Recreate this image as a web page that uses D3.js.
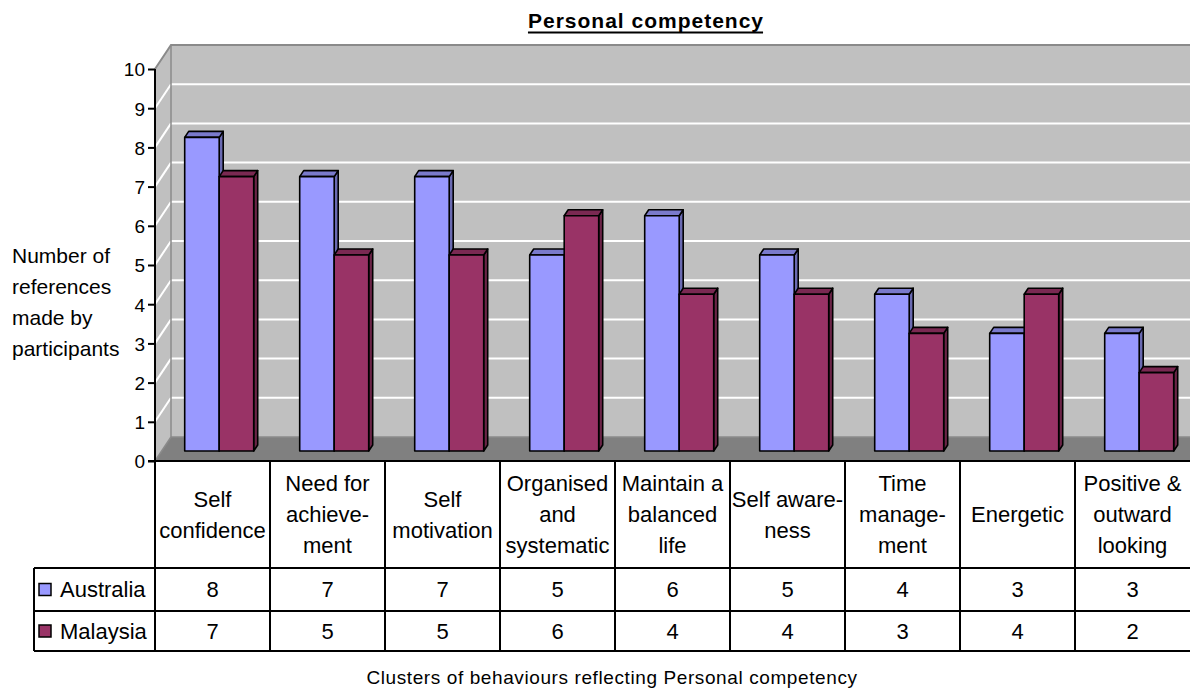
<!DOCTYPE html>
<html>
<head>
<meta charset="utf-8">
<script src="https://cdn.jsdelivr.net/npm/d3@7"></script>
<style>
  html, body { margin: 0; padding: 0; background: #fff; }
  svg text { font-family: "Liberation Sans", Arial, sans-serif; fill: #000; }
</style>
</head>
<body>
<svg id="chart" width="1190" height="691"></svg>
<script>
// ---- data ----
const categories = [
  "Self confidence", "Need for achievement", "Self motivation",
  "Organised and systematic", "Maintain a balanced life", "Self awareness",
  "Time management", "Energetic", "Positive & outward looking"
];
const categoryLines = [
  ["Self", "confidence"],
  ["Need for", "achieve-", "ment"],
  ["Self", "motivation"],
  ["Organised", "and", "systematic"],
  ["Maintain a", "balanced", "life"],
  ["Self aware-", "ness"],
  ["Time", "manage-", "ment"],
  ["Energetic"],
  ["Positive &", "outward", "looking"]
];
const seriesNames = ["Australia", "Malaysia"];
const australia = [8, 7, 7, 5, 6, 5, 4, 3, 3];
const malaysia  = [7, 5, 5, 6, 4, 4, 3, 4, 2];
const yTicks = [0, 1, 2, 3, 4, 5, 6, 7, 8, 9, 10];
const yTitleLines = ["Number of", "references", "made by", "participants"];
const chartTitle = "Personal competency";
const xTitle = "Clusters of behaviours reflecting Personal competency";

const seriesValues = [australia, malaysia];
const faceColors = [
  { front: "#9999ff", top: "#7a7acc", side: "#6a6ab2" },
  { front: "#993366", top: "#7a2952", side: "#6b2447" }
];

// ---- layout ----
const svg = d3.select("#chart");
const plotL = 155, plotR = 1190, plotT = 69, plotB = 461;
const DX = 16, DY = -24;             // depth of the 3D floor / walls
const FX = 6.7, FY = -10;            // front face of bars inside the depth
const BX = 4, BY = -6;               // bar thickness in depth
const tableLeft = 34;
const rowCat = [461, 568], rowAu = [568, 611], rowMy = [611, 651];
const labelSize = "22px";

const y = d3.scaleLinear().domain([0, 10]).range([plotB, plotT]);
const xCat = d3.scaleBand().domain(categories).range([plotL, plotR]);
const bw = xCat.bandwidth();
const xSub = d3.scaleBand().domain(seriesNames).range([bw * 0.2, bw * 0.8]);

// ---- walls and floor ----
const g = svg.append("g");
// left side wall
g.append("path")
  .attr("d", `M${plotL},${y(10)} L${plotL + DX},${y(10) + DY} L${plotL + DX},${y(0) + DY} L${plotL},${y(0)} Z`)
  .attr("fill", "#c0c0c0");
// back wall
g.append("rect")
  .attr("x", plotL + DX).attr("y", y(10) + DY)
  .attr("width", plotR - plotL - DX).attr("height", y(0) - y(10))
  .attr("fill", "#c0c0c0");
// floor
g.append("path")
  .attr("d", `M${plotL},${y(0)} L${plotL + DX},${y(0) + DY} L${plotR},${y(0) + DY} L${plotR},${y(0)} Z`)
  .attr("fill", "#808080");

// gridlines on back wall and side wall
const grid = yTicks.filter(v => v > 0 && v < 10);
g.selectAll("line.gridb").data(grid).join("line")
  .attr("class", "gridb")
  .attr("x1", plotL + DX).attr("x2", plotR)
  .attr("y1", d => y(d) + DY).attr("y2", d => y(d) + DY)
  .attr("stroke", "#ffffff").attr("stroke-width", 2);
g.selectAll("line.grids").data(grid).join("line")
  .attr("class", "grids")
  .attr("x1", plotL).attr("x2", plotL + DX)
  .attr("y1", d => y(d)).attr("y2", d => y(d) + DY)
  .attr("stroke", "#ffffff").attr("stroke-width", 2);

// wall outlines
g.append("path")
  .attr("d", `M${plotL},${y(10)} L${plotL + DX},${y(10) + DY} L${plotR},${y(10) + DY}`)
  .attr("fill", "none").attr("stroke", "#8a8a8a").attr("stroke-width", 2);
g.append("path")
  .attr("d", `M${plotL + DX},${y(10) + DY} L${plotL + DX},${y(0) + DY} L${plotR},${y(0) + DY}`)
  .attr("fill", "none").attr("stroke", "#8a8a8a").attr("stroke-width", 1.5);
g.append("line")
  .attr("x1", plotL).attr("y1", y(0)).attr("x2", plotL + DX).attr("y2", y(0) + DY)
  .attr("stroke", "#8a8a8a").attr("stroke-width", 1.5);

// ---- bars ----
const bars = svg.append("g")
  .attr("stroke", "#000").attr("stroke-width", 1.6).attr("stroke-linejoin", "round");
categories.forEach((c, i) => {
  seriesNames.forEach((s, k) => {
    const v = seriesValues[k][i];
    const x0 = xCat(c) + xSub(s) + FX, x1 = x0 + xSub.bandwidth();
    const yt = y(v) + FY, yb = y(0) + FY;
    const col = faceColors[k];
    // right side face
    bars.append("path")
      .attr("d", `M${x1},${yt} L${x1 + BX},${yt + BY} L${x1 + BX},${yb + BY} L${x1},${yb} Z`)
      .attr("fill", col.side);
    // top face
    bars.append("path")
      .attr("d", `M${x0},${yt} L${x0 + BX},${yt + BY} L${x1 + BX},${yt + BY} L${x1},${yt} Z`)
      .attr("fill", col.top);
    // front face
    bars.append("rect")
      .attr("x", x0).attr("y", yt)
      .attr("width", x1 - x0).attr("height", yb - yt)
      .attr("fill", col.front);
  });
});

// ---- y axis ----
const axis = svg.append("g").attr("transform", `translate(${plotL},0)`)
  .call(d3.axisLeft(y).tickValues(yTicks).tickSize(7).tickPadding(3).tickFormat(d3.format("d")));
axis.select(".domain").attr("stroke", "#000").attr("stroke-width", 2)
  .attr("d", `M0,${y(10)}V${y(0)}`);
axis.selectAll(".tick line").attr("stroke", "#000").attr("stroke-width", 2);
axis.selectAll(".tick text")
  .style("font-family", '"Liberation Sans", Arial, sans-serif')
  .style("font-size", "19px").attr("fill", "#000").attr("dy", "0.36em");

// y axis title
svg.append("g").selectAll("text").data(yTitleLines).join("text")
  .attr("x", 12).attr("y", (d, i) => 256 + i * 31)
  .attr("dy", "0.35em")
  .style("font-size", "21px")
  .text(d => d);

// ---- data table ----
const table = svg.append("g").attr("stroke", "#000").attr("stroke-width", 2);
// horizontal rules
table.append("line").attr("x1", plotL - 7).attr("x2", plotR).attr("y1", rowCat[0]).attr("y2", rowCat[0]);
[rowAu[0], rowMy[0], rowMy[1]].forEach(yy => {
  table.append("line").attr("x1", tableLeft).attr("x2", plotR).attr("y1", yy).attr("y2", yy);
});
// vertical rules
table.append("line").attr("x1", tableLeft).attr("x2", tableLeft).attr("y1", rowAu[0]).attr("y2", rowMy[1]);
categories.forEach(c => {
  table.append("line").attr("x1", xCat(c)).attr("x2", xCat(c)).attr("y1", rowCat[0]).attr("y2", rowMy[1]);
});

// category labels
const catCenter = (rowCat[0] + rowCat[1]) / 2;
categories.forEach((c, i) => {
  const lines = categoryLines[i];
  const lh = 31;
  const y0 = catCenter - (lines.length - 1) * lh / 2;
  svg.append("g").selectAll("text").data(lines).join("text")
    .attr("x", xCat(c) + bw / 2)
    .attr("y", (d, j) => y0 + j * lh)
    .attr("dy", "0.35em")
    .attr("text-anchor", "middle")
    .style("font-size", labelSize)
    .text(d => d);
});

// legend keys and values
const rows = [rowAu, rowMy];
seriesNames.forEach((s, k) => {
  const cy = (rows[k][0] + rows[k][1]) / 2;
  svg.append("rect")
    .attr("x", 39).attr("y", cy - 6).attr("width", 12).attr("height", 12)
    .attr("fill", faceColors[k].front).attr("stroke", "#000").attr("stroke-width", 1.5);
  svg.append("text")
    .attr("x", 60).attr("y", cy).attr("dy", "0.35em")
    .style("font-size", labelSize)
    .text(s);
  svg.append("g").selectAll("text").data(seriesValues[k]).join("text")
    .attr("x", (d, i) => xCat(categories[i]) + bw / 2)
    .attr("y", cy).attr("dy", "0.35em")
    .attr("text-anchor", "middle")
    .style("font-size", labelSize)
    .text(d => d);
});

// ---- titles ----
const t = svg.append("text")
  .attr("x", 646).attr("y", 21).attr("dy", "0.35em")
  .attr("text-anchor", "middle")
  .style("font-size", "21px").style("font-weight", "bold")
  .style("letter-spacing", "1px")
  .text(chartTitle);
const tb = t.node().getBBox();
svg.append("line")
  .attr("x1", tb.x).attr("x2", tb.x + tb.width - 1)
  .attr("y1", 32.5).attr("y2", 32.5)
  .attr("stroke", "#000").attr("stroke-width", 2);

svg.append("text")
  .attr("x", 612).attr("y", 677).attr("dy", "0.35em")
  .attr("text-anchor", "middle")
  .style("font-size", "19px")
  .style("letter-spacing", "0.6px")
  .text(xTitle);
</script>
</body>
</html>
